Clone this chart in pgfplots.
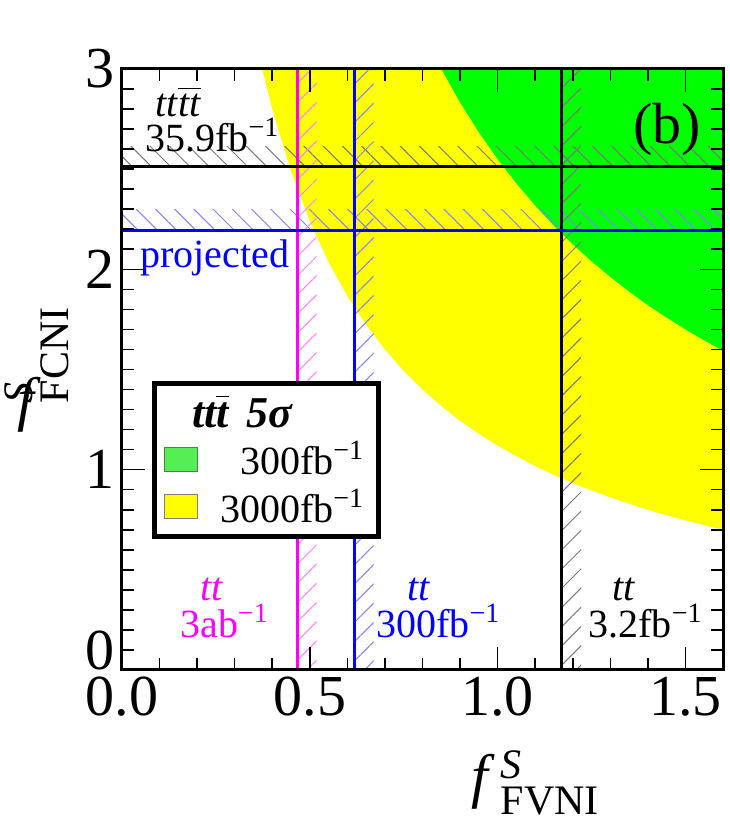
\documentclass[border=0pt]{standalone}
\usepackage{fontspec}
\setmainfont{Liberation Serif}
\usepackage{amsmath}
\usepackage{graphicx}
\usepackage{pgfplots}
\pgfplotsset{compat=1.18}
\usetikzlibrary{patterns.meta,calc}
\definecolor{hgray}{RGB}{120,120,120}
\definecolor{hblue}{RGB}{130,130,255}
\definecolor{hmag}{RGB}{255,130,255}
\definecolor{lgreen}{RGB}{85,238,85}
\definecolor{lgreenb}{RGB}{60,140,60}
\definecolor{fgreen}{RGB}{0,255,0}
\definecolor{fyellow}{RGB}{255,255,0}
\definecolor{pmag}{RGB}{255,0,255}
\definecolor{pblue}{RGB}{0,0,255}
\newcommand{\ann}{\fontsize{20}{24}\selectfont}
\begin{document}
\begin{tikzpicture}
\begin{axis}[
  scale only axis, width=300.5pt, height=300.5pt,
  xmin=0, xmax=1.6, ymin=0, ymax=3,
  xtick={0,0.5,1,1.5}, xticklabels={0.0,0.5,1.0,1.5},
  ytick={0,1,2,3}, yticklabels={\raisebox{0pt}[0pt][0pt]{0},1,2,3},
  minor x tick num=4, minor y tick num=9,
  tick align=inside,
  major tick length=11.5pt, minor tick length=6pt,
  tick style={black, line width=0.8pt},
  axis line style={line width=1.5pt},
  axis on top,
  tick label style={font=\fontsize{29}{30}\selectfont},
  /pgf/number format/assume math mode=true,
  xlabel={\fontsize{30}{36}\selectfont $\text{\textit{f}}\kern3pt^{\text{\textit{S}}}_{\text{FVNI}}$},
  ylabel={\fontsize{30}{36}\selectfont $\text{\raisebox{3pt}{\rotatebox[origin=c]{-90}{\textit{f}}}}\kern-13pt^{\text{\textit{S}}}_{\text{FCNI}}$},
  xlabel style={at={(axis description cs:0.688,-0.188)}, anchor=center},
  ylabel style={at={(axis description cs:-0.142,0.5)}, anchor=center},
  legend style={at={(axis cs:0.0786,1.445)}, anchor=north west, draw=black, line width=2.5pt, fill=white,
    font=\fontsize{20}{24}\selectfont, inner xsep=5pt, inner ysep=3.5pt, row sep=1.5pt,
    /tikz/every odd column/.append style={column sep=9pt}},
  legend cell align=left,
]
% 5 sigma regions
\addplot[draw=none, fill=fyellow, forget plot] coordinates {
 (0.3733,3) (0.40,2.80) (0.45,2.489) (0.50,2.24) (0.55,2.036) (0.60,1.867)
 (0.65,1.723) (0.70,1.60) (0.75,1.493) (0.80,1.40) (0.85,1.318) (0.90,1.244)
 (0.95,1.179) (1.00,1.12) (1.05,1.067) (1.10,1.018) (1.15,0.974) (1.20,0.933)
 (1.25,0.896) (1.30,0.862) (1.35,0.830) (1.40,0.80) (1.45,0.772) (1.50,0.747)
 (1.55,0.723) (1.60,0.70) (1.60,3)};
\addplot[draw=none, fill=fgreen, forget plot] coordinates {
 (0.85,3) (0.90,2.833) (0.95,2.684) (1.00,2.55) (1.05,2.429) (1.10,2.318)
 (1.15,2.217) (1.20,2.125) (1.25,2.04) (1.30,1.962) (1.35,1.889) (1.40,1.821)
 (1.45,1.759) (1.50,1.70) (1.55,1.645) (1.60,1.594) (1.60,3)};
% hatched bands
\addplot[draw=none, pattern={Lines[angle=-45,distance=6.8pt,line width=0.5pt]}, pattern color=hgray, forget plot]
  coordinates {(0,2.513) (1.6,2.513) (1.6,2.613) (0,2.613)};
\addplot[draw=none, pattern={Lines[angle=-45,distance=6.8pt,line width=0.5pt]}, pattern color=hblue, forget plot]
  coordinates {(0,2.192) (1.6,2.192) (1.6,2.297) (0,2.297)};
\addplot[draw=none, pattern={Lines[angle=45,distance=6.8pt,line width=0.5pt]}, pattern color=hmag, forget plot]
  coordinates {(0.468,0) (0.518,0) (0.518,3) (0.468,3)};
\addplot[draw=none, pattern={Lines[angle=45,distance=6.8pt,line width=0.5pt]}, pattern color=hblue, forget plot]
  coordinates {(0.618,0) (0.670,0) (0.670,3) (0.618,3)};
\addplot[draw=none, pattern={Lines[angle=45,distance=6.8pt,line width=0.5pt]}, pattern color=hgray, forget plot]
  coordinates {(1.171,0) (1.222,0) (1.222,3) (1.171,3)};
% limit lines
\addplot[pmag, line width=1.6pt, forget plot] coordinates {(0.468,0) (0.468,3)};
\addplot[pblue, line width=1.6pt, forget plot] coordinates {(0.618,0) (0.618,3)};
\addplot[black, line width=1.6pt, forget plot] coordinates {(1.171,0) (1.171,3)};
\addplot[black, line width=1.6pt, forget plot] coordinates {(0,2.513) (1.6,2.513)};
\addplot[pblue, line width=1.6pt, forget plot] coordinates {(0,2.192) (1.6,2.192)};
% legend
\addlegendimage{empty legend}
\addlegendentry{\hspace*{-14pt}{\fontsize{22}{24}\selectfont\bfseries\itshape tt$\overline{\text{t}}$\hspace{0.4em}5σ}}
\addlegendimage{legend image code/.code={\draw[fill=lgreen, draw=lgreenb, line width=0.5pt] (0pt,-6pt) rectangle (16.5pt,6pt);}}
\addlegendentry{\hphantom{0}300fb\textsuperscript{−1}}
\addlegendimage{legend image code/.code={\draw[fill=fyellow, draw=gray, line width=0.5pt] (0pt,-6pt) rectangle (16.5pt,6pt);}}
\addlegendentry{3000fb\textsuperscript{−1}}
% annotations
\node[anchor=base west, inner sep=0, text=pmag, font=\ann] at (axis cs:0.2077,0.349) {\textit{tt}};
\node[anchor=base west, inner sep=0, text=pmag, font=\ann] at (axis cs:0.154,0.160) {3ab\textsuperscript{−1}};
\node[anchor=base west, inner sep=0, text=pblue, font=\ann] at (axis cs:0.759,0.349) {\textit{tt}};
\node[anchor=base west, inner sep=0, text=pblue, font=\ann] at (axis cs:0.676,0.160) {300fb\textsuperscript{−1}};
\node[anchor=base west, inner sep=0, text=black, font=\ann] at (axis cs:1.305,0.349) {\textit{tt}};
\node[anchor=base west, inner sep=0, text=black, font=\ann] at (axis cs:1.241,0.160) {3.2fb\textsuperscript{−1}};
\node[anchor=base west, inner sep=0, text=black, font=\ann] at (axis cs:0.0879,2.761) {\textit{tt}$\overline{\text{\textit{tt}}}$};
\node[anchor=base west, inner sep=0, text=black, font=\ann] at (axis cs:0.0612,2.586) {35.9fb\textsuperscript{−1}};
\node[anchor=base west, inner sep=0, text=pblue, font=\ann] at (axis cs:0.0479,2.007) {projected};
\node[anchor=center, inner sep=0, font=\fontsize{29}{30}\selectfont] at (axis cs:1.451,2.696) {(b)};
\coordinate (bl) at (rel axis cs:0,0);
\coordinate (tr) at (rel axis cs:1,1);
\end{axis}
\pgfresetboundingbox
\path[use as bounding box] ($(bl)+(-61pt,-76.5pt)$) rectangle ($(tr)+(3.5pt,34.5pt)$);
\end{tikzpicture}
\end{document}
